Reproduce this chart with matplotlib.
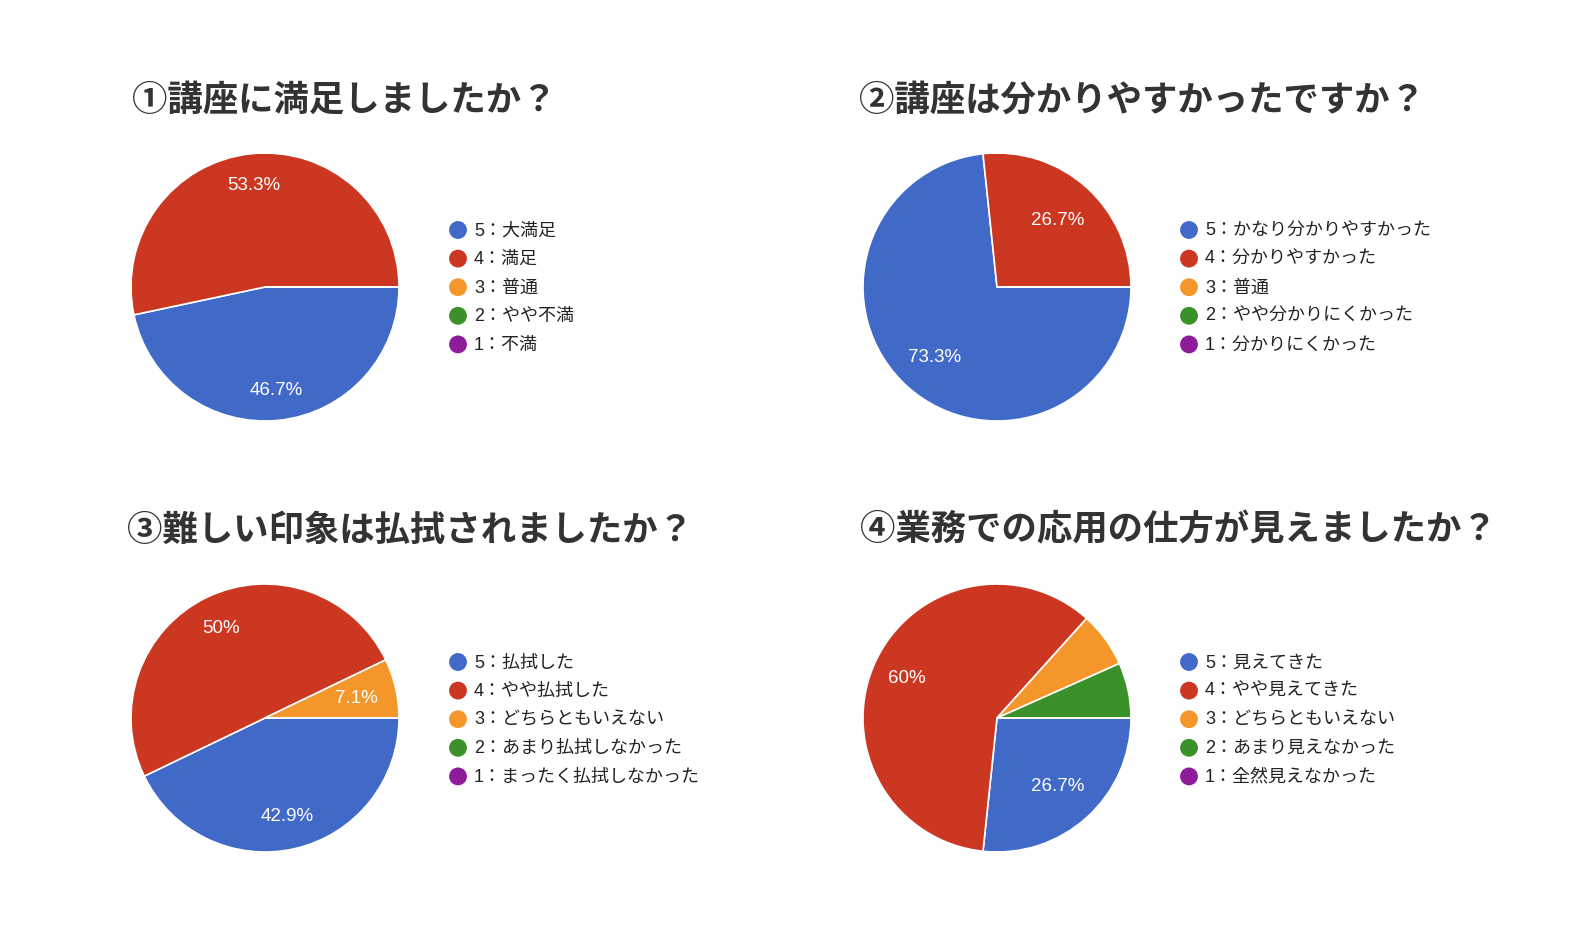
import matplotlib
matplotlib.use('Agg')
import matplotlib.pyplot as plt

plt.rcParams['font.family'] = ['Liberation Sans', 'Noto Sans CJK JP', 'DejaVu Sans']

# survey results (number of answers, 5 -> 1)
titles = [
    '①講座に満足しましたか？',
    '②講座は分かりやすかったですか？',
    '③難しい印象は払拭されましたか？',
    '④業務での応用の仕方が見えましたか？',
]
labels_q1 = ['5：大満足', '4：満足', '3：普通', '2：やや不満', '1：不満']
labels_q2 = ['5：かなり分かりやすかった', '4：分かりやすかった', '3：普通',
             '2：やや分かりにくかった', '1：分かりにくかった']
labels_q3 = ['5：払拭した', '4：やや払拭した', '3：どちらともいえない',
             '2：あまり払拭しなかった', '1：まったく払拭しなかった']
labels_q4 = ['5：見えてきた', '4：やや見えてきた', '3：どちらともいえない',
             '2：あまり見えなかった', '1：全然見えなかった']
counts_q1 = [7, 8, 0, 0, 0]
counts_q2 = [11, 4, 0, 0, 0]
counts_q3 = [6, 7, 1, 0, 0]
counts_q4 = [4, 9, 1, 1, 0]

colors = ['#4169c8', '#cc3721', '#f4962a', '#3b9129', '#8e1b98']

W, H = 1584, 928
R = 134
# (pie centre x, y, title x, title y, legend x, legend top row y) in pixels
layout = [
    (265, 288, 132, 100, 449, 231),
    (997, 288, 859, 100, 1180, 231),
    (265, 719, 127, 530, 449, 663),
    (997, 719, 860, 530, 1180, 663),
]
# radial position of the percentage labels, per pie
pct_dist = [[0.77, 0.77], [0.70, 0.68], [0.75, 0.75, 0.70], [0.68, 0.74]]


def fmt(p):
    if p < 7:
        return ''
    return ('%.1f%%' % p).replace('.0%', '%')


fig = plt.figure(figsize=(W / 100, H / 100), dpi=100)

all_labels = [labels_q1, labels_q2, labels_q3, labels_q4]
all_counts = [counts_q1, counts_q2, counts_q3, counts_q4]

for k in range(4):
    cx, cy, tx, ty, lx, ly = layout[k]
    vals = all_counts[k]
    labs = all_labels[k]

    ax = fig.add_axes([(cx - R) / W, (H - cy - R) / H, 2 * R / W, 2 * R / H])
    wedges, texts, autotexts = ax.pie(
        vals, colors=colors, startangle=0, counterclock=False,
        autopct=fmt, pctdistance=0.75, radius=1.0,
        wedgeprops=dict(edgecolor='white', linewidth=1.2),
        textprops=dict(color='white', fontsize=13.5),
    )
    j = 0
    for t in autotexts:
        if t.get_text() == '':
            continue
        x, y = t.get_position()
        d = (x ** 2 + y ** 2) ** 0.5
        s = pct_dist[k][j] / d
        t.set_position((x * s, y * s))
        j += 1
    ax.set_xlim(-1, 1)
    ax.set_ylim(-1, 1)
    ax.set_aspect('equal')
    ax.axis('off')

    fig.text(tx / W, (H - ty) / H, titles[k], fontsize=25.5, fontweight='bold',
             color='#333333', va='center', ha='left',
             family=['Noto Sans CJK JP'])

    # legend
    step = 28.6
    lax = fig.add_axes([lx / W, (H - ly - 4.5 * step) / H, 320 / W, 5 * step / H])
    lax.set_xlim(0, 320)
    lax.set_ylim(4.5, -0.5)
    lax.axis('off')
    for i, lab in enumerate(labs):
        lax.scatter([9], [i], s=165, color=colors[i], edgecolors='none')
        lax.text(25, i, lab, fontsize=13, color='#222222', va='center', ha='left')

fig.savefig('out.png', dpi=100, facecolor='white')
